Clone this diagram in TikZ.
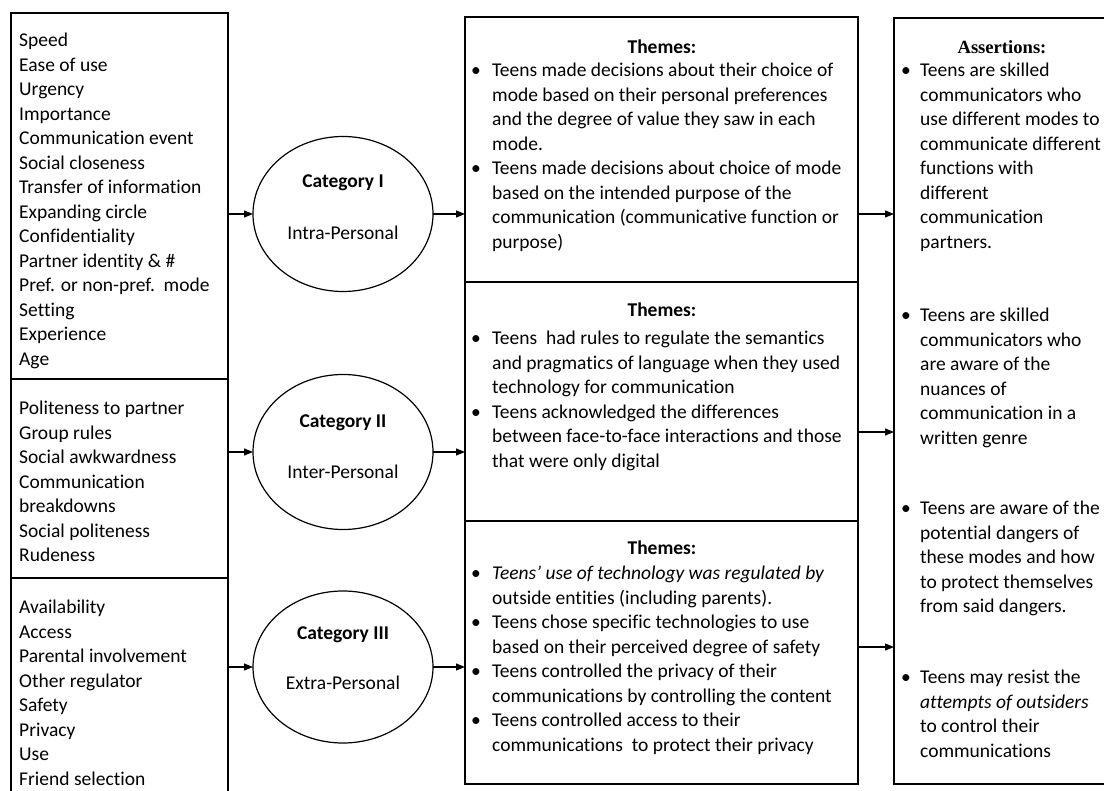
\documentclass[tikz,border=0pt]{standalone}
\usepackage{fontspec}
\setmainfont{Carlito}[Ligatures={TeX,NoCommon}]
\newfontfamily\timesfont{Liberation Serif}
\usetikzlibrary{arrows.meta,shapes.geometric}
\newcommand\bitem{\makebox[21pt][l]{\textbullet}}
\newcommand\bcont{\hspace*{21pt}}
\newcommand\ritem{\makebox[19pt][l]{\textbullet}}
\newcommand\rcont{\hspace*{19pt}}
\begin{document}
\begin{tikzpicture}[x=1pt,y=-1pt,
 box/.style={draw,line width=1.3pt,rectangle,anchor=north west,inner sep=0pt,outer sep=0pt},
 cat/.style={draw,line width=1.2pt,ellipse,minimum width=180pt,minimum height=155pt,inner sep=0pt,outer sep=0pt},
 txt/.style={anchor=north west,inner sep=0pt,align=left,font=\fontsize{19.5}{24.5}\selectfont},
 head/.style={inner sep=0pt,font=\fontsize{19.5}{24.5}\selectfont\bfseries},
 lab/.style={inner sep=0pt,font=\fontsize{19.5}{24.5}\selectfont},
 arr/.style={line width=1.2pt,-{Triangle[length=9pt,width=7pt]}}]
\path[use as bounding box] (0,0) rectangle (1104,791);
\clip (0,0) rectangle (1104,791);
\fill[white] (0,0) rectangle (1104,791);

% left boxes
\node[box,minimum width=217pt,minimum height=366pt] (L1) at (11,13) {};
\node[box,minimum width=217pt,minimum height=199pt] (L2) at (11,379) {};
\node[box,minimum width=217pt,minimum height=240pt] (L3) at (11,578) {};

% middle boxes
\node[box,minimum width=393pt,minimum height=265pt] (M1) at (465,17) {};
\node[box,minimum width=393pt,minimum height=239pt] (M2) at (465,282) {};
\node[box,minimum width=393pt,minimum height=263pt] (M3) at (465,521) {};

% right box
\node[box,minimum width=230pt,minimum height=766pt] (R) at (894,18) {};

% categories
\node[cat] (C1) at (343,214) {};
\node[cat] (C2) at (343,452) {};
\node[cat,minimum height=152pt] (C3) at (343,667) {};
\node[lab,font=\fontsize{19.5}{24.5}\selectfont\bfseries] (c1a) at (343,183) {Category I};
\node[lab] (c1b) at (343,233) {Intra-Personal};
\node[lab,font=\fontsize{19.5}{24.5}\selectfont\bfseries] (c2a) at (343,423) {Category II};
\node[lab] (c2b) at (343,472) {Inter-Personal};
\node[lab,font=\fontsize{19.5}{24.5}\selectfont\bfseries] (c3a) at (343,635) {Category III};
\node[lab] (c3b) at (343,683) {Extra-Personal};

% arrows
\draw[arr] (L1.east |- C1.west) -- (C1.west);
\draw[arr] (C1.east) -- (C1.east -| M1.west);
\draw[arr] (L2.east |- C2.west) -- (C2.west);
\draw[arr] (C2.east) -- (C2.east -| M2.west);
\draw[arr] (L3.east |- C3.west) -- (C3.west);
\draw[arr] (C3.east) -- (C3.east -| M3.west);
\draw[arr] (M1.east |- C1.east) -- (C1.east -| R.west);
\coordinate (m2o) at ([yshift=-30.5pt]M2.east);
\coordinate (m3o) at ([yshift=5.5pt]M3.east);
\draw[arr] (m2o) -- (m2o -| R.west);
\draw[arr] (m3o) -- (m3o -| R.west);

% left texts
\node[txt] (t1) at (19,33) {Speed\\Ease of use\\Urgency\\Importance\\Communication event\\Social closeness\\Transfer of information\\Expanding circle\\Confidentiality\\Partner identity \& \#\\Pref. or non-pref.\ \ mode\\Setting\\Experience\\Age};
\node[txt] (t2) at (19,401) {Politeness to partner\\Group rules\\Social awkwardness\\Communication\\breakdowns\\Social politeness\\Rudeness};
\node[txt] (t3) at (19,600) {Availability\\Access\\Parental involvement\\Other regulator\\Safety\\Privacy\\Use\\Friend selection};

% themes
\node[head] (h1) at (662,47) {Themes:};
\node[head] (h2) at (662,310) {Themes:};
\node[head] (h3) at (662,548) {Themes:};
\node[txt] (m1t) at (471,63) {\bitem Teens made decisions about their choice of\\
\bcont mode based on their personal preferences\\
\bcont and the degree of value they saw in each\\
\bcont mode.\\
\bitem Teens made decisions about choice of mode\\
\bcont based on the intended purpose of the\\
\bcont communication (communicative function or\\
\bcont purpose)};
\node[txt] (m2t) at (471,331) {\bitem Teens\ \ had rules to regulate the semantics\\
\bcont and pragmatics of language when they used\\
\bcont technology for communication\\
\bitem Teens acknowledged the differences\\
\bcont between face-to-face interactions and those\\
\bcont that were only digital};
\node[txt] (m3t) at (471,566) {\bitem \textit{Teens' use of technology was regulated by}\\
\bcont outside entities (including parents).\\
\bitem Teens chose specific technologies to use\\
\bcont based on their perceived degree of safety\\
\bitem Teens controlled the privacy of their\\
\bcont communications by controlling the content\\
\bitem Teens controlled access to their\\
\bcont communications\ \ to protect their privacy};

% assertions
\node[inner sep=0pt,font=\fontsize{18.6}{22}\selectfont\timesfont\bfseries] (ah) at (1002,47) {Assertions:};
\node[txt] (r1) at (901,63) {\ritem Teens are skilled\\
\rcont communicators who\\
\rcont use different modes to\\
\rcont communicate different\\
\rcont functions with\\
\rcont different\\
\rcont communication\\
\rcont partners.};
\node[txt] (r2) at (901,308) {\ritem Teens are skilled\\
\rcont communicators who\\
\rcont are aware of the\\
\rcont nuances of\\
\rcont communication in a\\
\rcont written genre};
\node[txt] (r3) at (901,501) {\ritem Teens are aware of the\\
\rcont potential dangers of\\
\rcont these modes and how\\
\rcont to protect themselves\\
\rcont from said dangers.};
\node[txt] (r4) at (901,670) {\ritem Teens may resist the\\
\rcont \textit{attempts of outsiders}\\
\rcont to control their\\
\rcont communications};
\end{tikzpicture}
\end{document}
